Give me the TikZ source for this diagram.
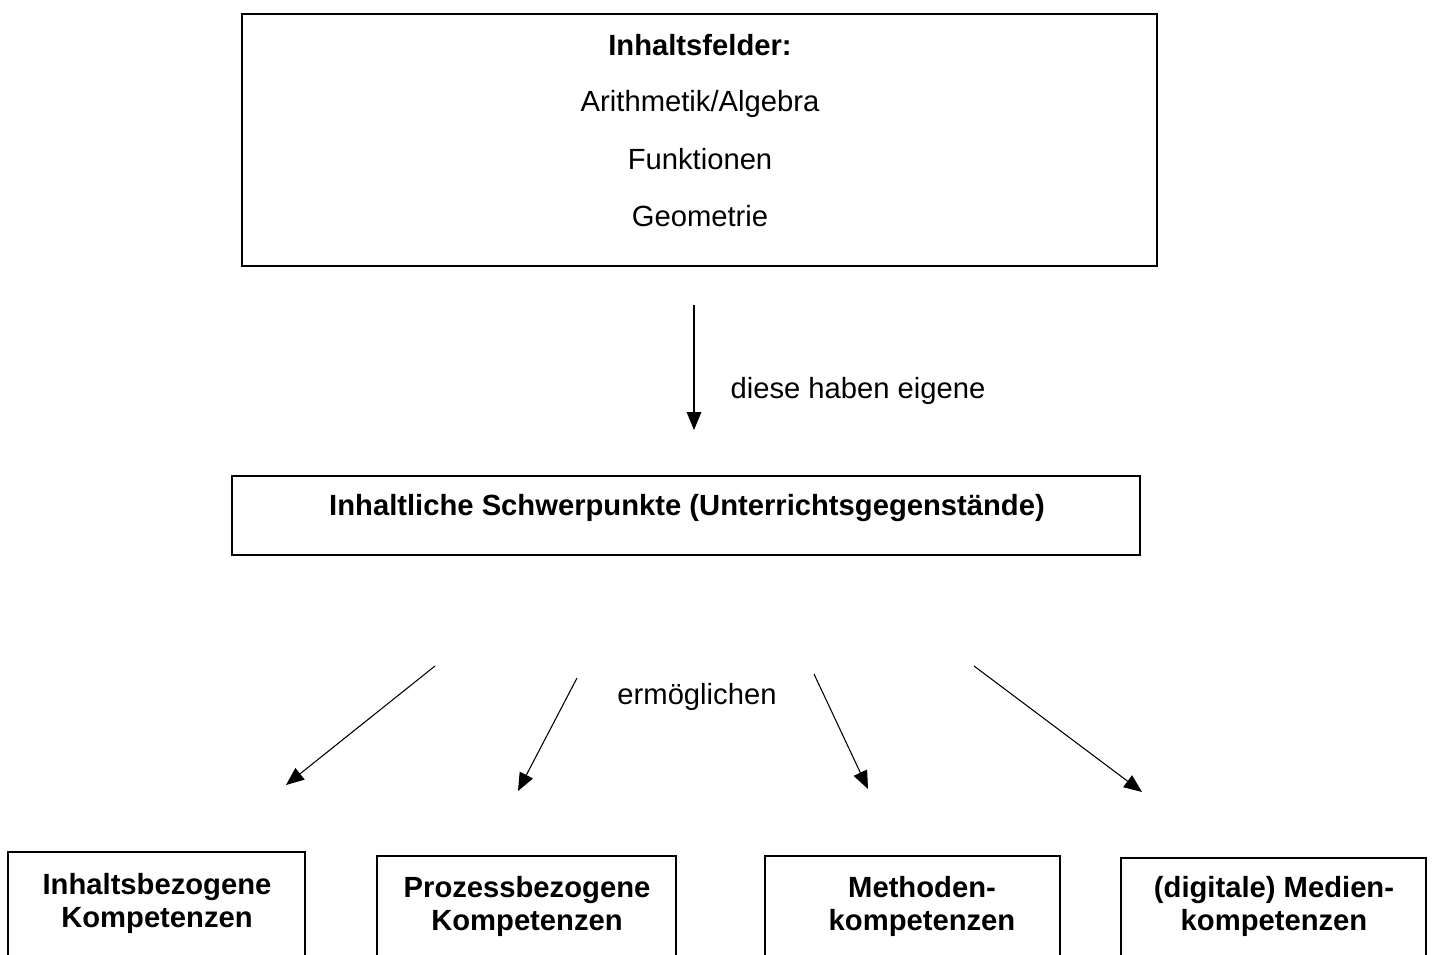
\documentclass[tikz,border=0pt]{standalone}
\usepackage{fontspec}
\setmainfont{Liberation Sans}
\usetikzlibrary{arrows.meta,fit}
\tikzset{
  box/.style={draw=black, line width=0.9pt, inner sep=0pt},
  txt/.style={font=\fontsize{21.9}{24.75}\selectfont, inner sep=0pt, anchor=base},
  btxt/.style={font=\bfseries\fontsize{21.9}{24.75}\selectfont, inner sep=0pt, anchor=base},
  ktxt/.style={font=\bfseries\fontsize{21.9}{24.75}\selectfont, inner sep=0pt, align=center, anchor=center},
  arr/.style={draw=black, line width=0.8pt, -{Triangle[length=13.5pt,width=11pt]}}
}
\begin{document}
\begin{tikzpicture}[x=0.75pt,y=-0.75pt]
\useasboundingbox (0,0) rectangle (1438,954);
\clip (0,0) rectangle (1438,954);
% top box
\node[box, fit={(242,14) (1157,266)}] (felder) {};
\node[btxt] (t0) at (700,55) {Inhaltsfelder:};
\node[txt] (t1) at (700,111) {Arithmetik/Algebra};
\node[txt] (t2) at (700,169) {Funktionen};
\node[txt] (t3) at (700,226) {Geometrie};
% vertical arrow
\coordinate (a0s) at (694,305);
\coordinate (a0e) at (694,430);
\draw[arr] (a0s) -- (a0e);
\node[txt] (lab1) at (858,398) {diese haben eigene};
% middle box
\node[box, fit={(232,476) (1140,555)}] (schwer) {};
\node[btxt] (st) at (687,515) {Inhaltliche Schwerpunkte (Unterrichtsgegenstände)};
% diagonal arrows
\coordinate (a1s) at (435,666); \coordinate (a1e) at (286,785);
\coordinate (a2s) at (577,678); \coordinate (a2e) at (518,791);
\coordinate (a3s) at (814,674); \coordinate (a3e) at (868,789);
\coordinate (a4s) at (974,666); \coordinate (a4e) at (1142,792);
\draw[arr] (a1s) -- (a1e);
\draw[arr] (a2s) -- (a2e);
\draw[arr] (a3s) -- (a3e);
\draw[arr] (a4s) -- (a4e);
\node[txt] (lab2) at (697,704) {ermöglichen};
% bottom boxes
\node[box, fit={(8,852) (305,990)}] (b1) {};
\node[box, fit={(377,856) (676,990)}] (b2) {};
\node[box, fit={(765,856) (1060,990)}] (b3) {};
\node[box, fit={(1121,858) (1426,990)}] (b4) {};
\node[ktxt] (k1) at (157,903) {Inhaltsbezogene\\Kompetenzen};
\node[ktxt] (k2) at (527,906) {Prozessbezogene\\Kompetenzen};
\node[ktxt] (k3) at (922,906) {Methoden-\\kompetenzen};
\node[ktxt] (k4) at (1274,906) {(digitale) Medien-\\kompetenzen};
\end{tikzpicture}
\end{document}
